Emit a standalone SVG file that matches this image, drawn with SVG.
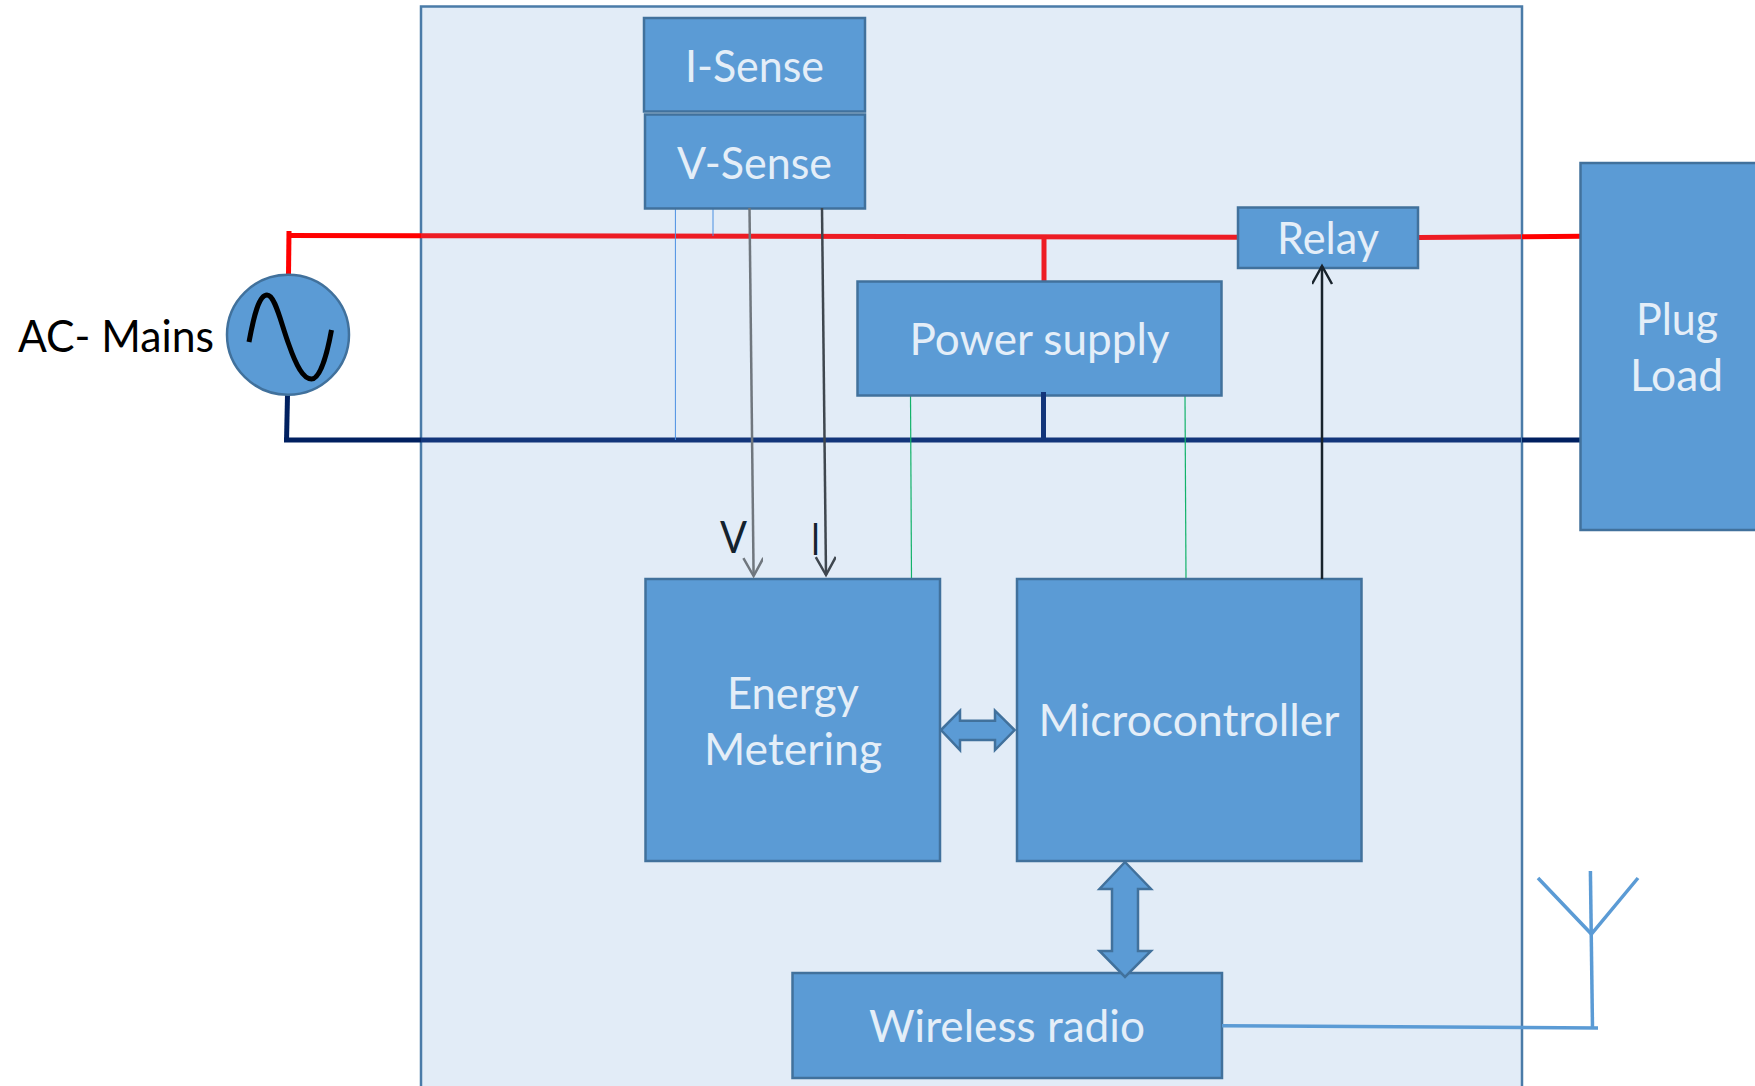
<svg xmlns="http://www.w3.org/2000/svg" width="1755" height="1086" viewBox="0 0 1755 1086">
<style>
.n{fill:#5B9BD5;stroke:#41719C;stroke-width:2.5}
.t{font-family:Lato,"Open Sans","Liberation Sans",sans-serif;font-size:44px;fill:#E4EEF8}
.k{font-family:Lato,"Open Sans","Liberation Sans",sans-serif;font-size:44px;fill:#000}
.l{font-family:Lato,"Open Sans","Liberation Sans",sans-serif;font-size:44px;fill:#14222E}
line,path.w{fill:none}
.red{stroke:#ED1C24;stroke-width:5}
.redo{stroke:#FF0000;stroke-width:5}
.nav{stroke:#12357A;stroke-width:5}
.navo{stroke:#002060;stroke-width:5}
.thin{stroke:#4A90E2;stroke-width:1}
.grn{stroke:#12B26A;stroke-width:1.2}
.ant{stroke:#5B9BD5;stroke-width:3.5}
</style>
<defs>
<marker id="ag" markerUnits="userSpaceOnUse" markerWidth="24" markerHeight="24" refX="20" refY="10" orient="auto"><path d="M2 0L20 10L2 20" fill="none" stroke="#70777E" stroke-width="2.5"/></marker>
<marker id="ad" markerUnits="userSpaceOnUse" markerWidth="24" markerHeight="24" refX="20" refY="10" orient="auto"><path d="M2 0L20 10L2 20" fill="none" stroke="#3F474F" stroke-width="2.5"/></marker>
<marker id="ab" markerUnits="userSpaceOnUse" markerWidth="24" markerHeight="24" refX="20" refY="10" orient="auto"><path d="M2 0L20 10L2 20" fill="none" stroke="#18232C" stroke-width="2.5"/></marker>
</defs>
<rect id="container" x="421" y="6.5" width="1101" height="1090" fill="#E2ECF7" stroke="#4A7BA8" stroke-width="2.5"/>
<g id="connectors">
<line class="redo" x1="289" y1="231" x2="288.5" y2="275"/>
<line class="redo" x1="287" y1="235.5" x2="421" y2="235.7"/>
<line class="red" x1="421" y1="235.7" x2="1238" y2="237.3"/>
<line class="red" x1="1044" y1="237" x2="1044" y2="282"/>
<line class="red" x1="1418" y1="237.5" x2="1521" y2="236.7"/>
<line class="redo" x1="1522" y1="236.7" x2="1582" y2="236.3"/>
<line class="navo" x1="287.5" y1="395" x2="286.5" y2="442"/>
<line class="navo" x1="284" y1="440" x2="421" y2="440"/>
<line class="nav" x1="421" y1="440" x2="1521" y2="440"/>
<line class="navo" x1="1522" y1="440" x2="1583" y2="440"/>
<line class="thin" x1="675.4" y1="208" x2="675.4" y2="440"/>
<line class="thin" x1="713" y1="208" x2="713" y2="236"/>
<line class="grn" x1="910.5" y1="394" x2="911.5" y2="579"/>
<line class="grn" x1="1185" y1="396" x2="1186" y2="579"/>
</g>
<g id="i-sense"><rect class="n" x="644" y="18" width="221" height="93.5"/><text class="t" x="685" y="82" textLength="139" lengthAdjust="spacingAndGlyphs">I-Sense</text></g>
<g id="v-sense"><rect class="n" x="645" y="114.5" width="220" height="94"/><text class="t" x="677" y="179" textLength="155" lengthAdjust="spacingAndGlyphs">V-Sense</text></g>
<g id="relay"><rect class="n" x="1238" y="207.5" width="180" height="60.5"/><text class="t" x="1277" y="254" textLength="102" lengthAdjust="spacingAndGlyphs">Relay</text></g>
<g id="power-supply"><rect class="n" x="857.5" y="281.5" width="364" height="114"/><text class="t" x="909.5" y="355" textLength="260" lengthAdjust="spacingAndGlyphs">Power supply</text></g>
<g id="plug-load"><rect class="n" x="1580.5" y="163" width="190" height="367"/><text class="t" x="1636" y="335" textLength="82" lengthAdjust="spacingAndGlyphs">Plug</text><text class="t" x="1630" y="391" textLength="93" lengthAdjust="spacingAndGlyphs">Load</text></g>
<g id="energy-metering"><rect class="n" x="645.5" y="579" width="294.5" height="282"/><text class="t" x="727" y="709" textLength="132" lengthAdjust="spacingAndGlyphs">Energy</text><text class="t" x="704" y="765" textLength="178" lengthAdjust="spacingAndGlyphs">Metering</text></g>
<g id="microcontroller"><rect class="n" x="1017" y="579" width="344.5" height="282"/><text class="t" x="1038.5" y="736" textLength="301" lengthAdjust="spacingAndGlyphs">Microcontroller</text></g>
<g id="wireless-radio"><rect class="n" x="792.5" y="973" width="429.5" height="105"/><text class="t" x="869" y="1042" textLength="276" lengthAdjust="spacingAndGlyphs">Wireless radio</text></g>
<g id="ac-mains"><ellipse class="n" cx="288" cy="334.7" rx="61" ry="60"/><path d="M249 342C254 315 259 295 267 295C275 295 280 320 289 345C296 365 303 379 311.5 379C320 379 327 355 331.5 330" fill="none" stroke="#000" stroke-width="5"/><text class="k" x="18" y="352" textLength="196" lengthAdjust="spacingAndGlyphs">AC- Mains</text></g>
<g id="signal-connectors">
<line x1="749.5" y1="208" x2="753.6" y2="576" stroke="#70777E" stroke-width="2.5" marker-end="url(#ag)"/>
<line x1="822" y1="208" x2="826" y2="575" stroke="#3F474F" stroke-width="2.5" marker-end="url(#ad)"/>
<line x1="1322" y1="579" x2="1322" y2="266" stroke="#18232C" stroke-width="2.5" marker-end="url(#ab)"/>
<line class="nav" x1="1043.5" y1="392" x2="1043.5" y2="440"/>
<path class="n" d="M941 730L960 710.7V720.7H995V710.7L1014.6 730L995 750V740H960V750Z"/>
<path class="n" d="M1125 862L1151 889H1138V951H1151L1125 977L1099.5 951H1112V889H1099.5Z"/>
<line class="ant" x1="1222" y1="1025.7" x2="1598" y2="1028"/>
<line class="ant" x1="1590.4" y1="871" x2="1592.5" y2="1028"/>
<path class="ant w" d="M1538 878L1591.4 934L1638 878"/>
</g>
<text class="l" x="720" y="553" textLength="27" lengthAdjust="spacingAndGlyphs">V</text>
<text class="l" x="811" y="555" textLength="9" lengthAdjust="spacingAndGlyphs">I</text>
</svg>
